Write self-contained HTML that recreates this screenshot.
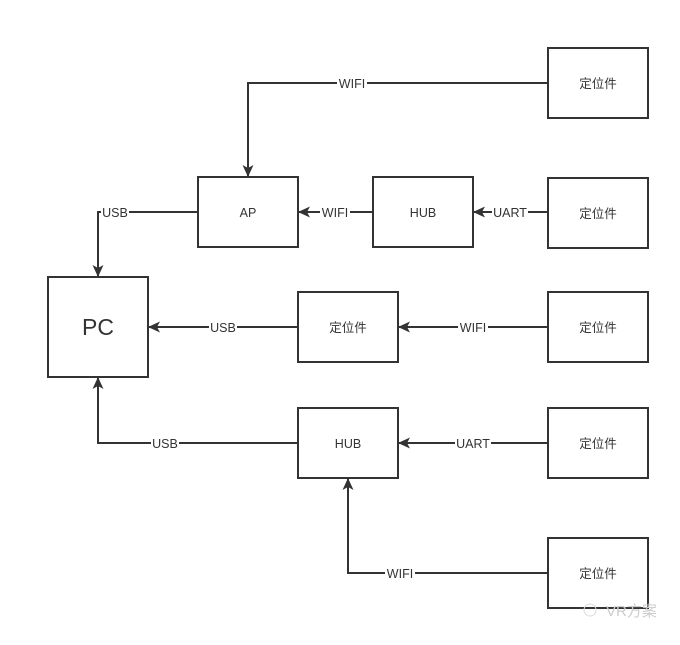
<!DOCTYPE html>
<html><head><meta charset="utf-8"><style>
body{margin:0;background:#fff}
svg text{font-family:"Liberation Sans","Noto Sans CJK SC",sans-serif;fill:#333}
</style></head><body>
<svg width="680" height="640" viewBox="0 0 680 640" xmlns="http://www.w3.org/2000/svg">
<defs><marker id="a" markerWidth="12" markerHeight="12" refX="11" refY="6" orient="auto" markerUnits="userSpaceOnUse"><path d="M0,0.5 L12,6 L0,11.5 L3,6 Z" fill="#333"/></marker></defs>
<g fill="none" stroke="#333" stroke-width="2">
<polyline points="548,83 248,83 248,176" marker-end="url(#a)"/>
<polyline points="373,212 299,212" marker-end="url(#a)"/>
<polyline points="548,212 474,212" marker-end="url(#a)"/>
<polyline points="198,212 98,212 98,276" marker-end="url(#a)"/>
<polyline points="298,327 149,327" marker-end="url(#a)"/>
<polyline points="548,327 399,327" marker-end="url(#a)"/>
<polyline points="298,443 98,443 98,378" marker-end="url(#a)"/>
<polyline points="548,443 399,443" marker-end="url(#a)"/>
<polyline points="548,573 348,573 348,479" marker-end="url(#a)"/>
<rect x="548" y="48" width="100" height="70"/>
<rect x="198" y="177" width="100" height="70"/>
<rect x="373" y="177" width="100" height="70"/>
<rect x="548" y="178" width="100" height="70"/>
<rect x="48" y="277" width="100" height="100"/>
<rect x="298" y="292" width="100" height="70"/>
<rect x="548" y="292" width="100" height="70"/>
<rect x="298" y="408" width="100" height="70"/>
<rect x="548" y="408" width="100" height="70"/>
<rect x="548" y="538" width="100" height="70"/>
</g>
<g fill="#fff">
<rect x="337" y="76" width="30" height="14"/>
<rect x="320" y="205" width="30" height="14"/>
<rect x="492" y="205" width="36" height="14"/>
<rect x="101" y="205" width="28" height="14"/>
<rect x="209" y="320" width="28" height="14"/>
<rect x="458" y="320" width="30" height="14"/>
<rect x="151" y="436" width="28" height="14"/>
<rect x="455" y="436" width="36" height="14"/>
<rect x="385" y="566" width="30" height="14"/>
</g>
<g font-size="12.5" text-anchor="middle">
<text x="352" y="88">WIFI</text>
<text x="335" y="217">WIFI</text>
<text x="510" y="217">UART</text>
<text x="115" y="217">USB</text>
<text x="223" y="332">USB</text>
<text x="473" y="332">WIFI</text>
<text x="165" y="448">USB</text>
<text x="473" y="448">UART</text>
<text x="400" y="578">WIFI</text>
<text x="598" y="88">定位件</text>
<text x="248" y="217">AP</text>
<text x="423" y="217">HUB</text>
<text x="598" y="218">定位件</text>
<text x="348" y="332">定位件</text>
<text x="598" y="332">定位件</text>
<text x="348" y="448">HUB</text>
<text x="598" y="448">定位件</text>
<text x="598" y="578">定位件</text>
<text x="98" y="335" font-size="23">PC</text>
</g>
<text x="606" y="616" font-size="15" style="fill:#ccc">VR方案</text>
<circle cx="590" cy="610" r="6" fill="none" stroke="#ddd" stroke-width="1"/>
</svg>
</body></html>
